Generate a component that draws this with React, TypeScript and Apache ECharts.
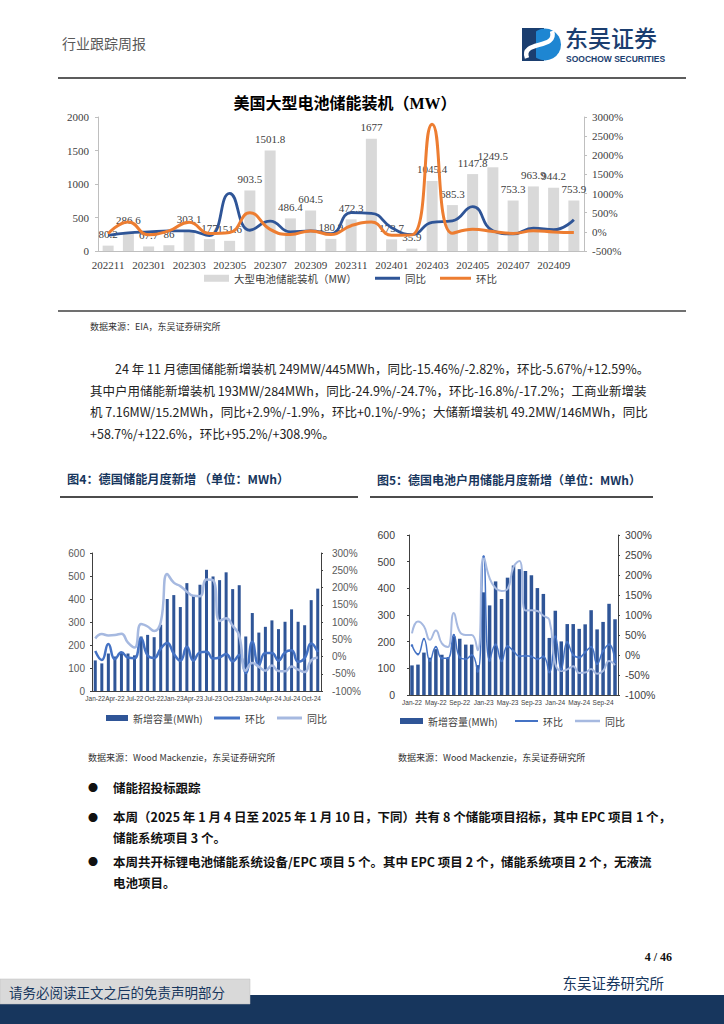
import React, { useEffect, useRef } from 'react';
import * as echarts from 'echarts';

// ---------- data: US large battery storage (MW) ----------
const usMonths = ['202211','202212','202301','202302','202303','202304','202305','202306','202307','202308','202309','202310','202311','202312','202401','202402','202403','202404','202405','202406','202407','202408','202409','202410'];
const usInstalledMW = [80.2, 286.6, 67.7, 86, 303.1, 177, 151.6, 903.5, 1501.8, 486.4, 604.5, 180.9, 472.3, 1677, 173.7, 35.9, 1045.4, 685.3, 1147.8, 1249.5, 753.3, 963.9, 944.2, 753.9];
const usYoY = [-89, -27, 0, 25, 25, -100, 1005, 42, 280, 0, 25, -45, 500, 485, 110, -70, 250, 287, 657, 30, -55, 98, 56, 317];
const usMoM = [-50, 257, -76, 27, 252, -42, -14, 496, 66, -68, 24, -70, 161, 255, -90, -79, 2812, -34, 67, 9, -40, 28, -2, -20];

// ---------- data: Germany monthly additions (MWh) ----------
const deMonths = ['Jan-22','Feb-22','Mar-22','Apr-22','May-22','Jun-22','Jul-22','Aug-22','Sep-22','Oct-22','Nov-22','Dec-22','Jan-23','Feb-23','Mar-23','Apr-23','May-23','Jun-23','Jul-23','Aug-23','Sep-23','Oct-23','Nov-23','Dec-23','Jan-24','Feb-24','Mar-24','Apr-24','May-24','Jun-24','Jul-24','Aug-24','Sep-24','Oct-24','Nov-24'];
const deTotalMWh = [133, 120, 163, 150, 168, 163, 155, 237, 244, 234, 288, 400, 417, 365, 469, 414, 462, 527, 498, 482, 516, 443, 460, 237, 339, 254, 279, 307, 269, 301, 355, 301, 286, 395, 445];
const deTotalMoM = [16, -10, 36, -8, 12, -3, -5, 53, 3, -4, 23, 39, 8, -12, 28, -12, 12, 14, -6, -3, 7, -14, 4, -48, 43, -25, 10, 10, -12, 12, 18, -15, -5, 38, 13];
const deTotalYoY = [52, 65, 61, 62, 66, 40, 26, 94, 87, 74, 99, 239, 214, 204, 188, 176, 175, 223, 221, 103, 111, 89, 60, -41, -19, -30, -41, -26, -42, -43, -29, -38, -45, -11, -3];

const deHomeMWh = [111, 114, 159, 140, 172, 151, 139, 220, 211, 189, 189, 112, 385, 336, 426, 360, 440, 486, 472, 465, 449, 401, 379, 214, 316, 201, 266, 266, 248, 265, 318, 246, 274, 342, 284];
const deHomeMoM = [24, 2, 40, -14, 20, -8, -8, 50, -6, -10, 0, -41, 246, -14, 26, -15, 22, 10, -3, -2, -4, -10, -4, -43, 46, -36, 32, 0, -6, 7, 20, -22, 10, 26, -17];
const deHomeYoY = [54, 84, 72, 38, 61, 29, 20, 105, 58, 50, 50, 12, 247, 192, 167, 160, 165, 220, 235, 111, 112, 110, 98, 88, -22, -40, -36, -28, -45, -44, -35, -47, -40, -15, -25];

// ---------- texts ----------
const legendLabels: Record<string, string> = {
  'us-bar': '大型电池储能装机（MW）', 'us-yoy': '同比', 'us-mom': '环比',
  'de-bar': '新增容量(MWh)', 'de-mom': '环比', 'de-yoy': '同比',
  'home-bar': '新增容量(MWh)', 'home-mom': '环比', 'home-yoy': '同比',
};
const paragraph = [
  '24 年 11 月德国储能新增装机 249MW/445MWh，同比-15.46%/-2.82%，环比-5.67%/+12.59%。',
  '其中户用储能新增装机 193MW/284MWh，同比-24.9%/-24.7%，环比-16.8%/-17.2%；工商业新增装',
  '机 7.16MW/15.2MWh，同比+2.9%/-1.9%，环比+0.1%/-9%；大储新增装机 49.2MW/146MWh，同比',
  '+58.7%/+122.6%，环比+95.2%/+308.9%。',
];

const SERIF = '"Liberation Serif","Times New Roman","Noto Sans CJK SC",serif';
const CJK = '"Noto Sans CJK SC",sans-serif';
const SANS = '"Liberation Sans",Arial,"Noto Sans CJK SC",sans-serif';
const NAVY = '#1B3E6F';

function txt(text: string, x: number, y: number, size: number, o: any = {}) {
  const align = o.align || 'left';
  return {
    type: 'text', x, y, silent: true,
    style: {
      text, fontSize: size, fontFamily: o.family || CJK, fontWeight: o.weight || 'normal',
      fill: o.fill || '#222', textAlign: align, align, textVerticalAlign: 'middle', verticalAlign: 'middle',
    },
  };
}
function hline(x1: number, x2: number, y: number, w: number, color: string) {
  return { type: 'line', silent: true, shape: { x1, y1: y, x2, y2: y }, style: { stroke: color, lineWidth: w } };
}
function leg(name: string, left: number, top: number, w: number, h: number, ts: any) {
  return {
    data: [{ name, icon: 'rect' }], left, top, itemWidth: w, itemHeight: h, padding: 0, itemGap: 0,
    selectedMode: false, formatter: (n: string) => legendLabels[n], textStyle: ts,
  };
}
const plain = (v: number) => String(v);
const pct = (v: number) => v + '%';

function buildOption() {
  const usAxisText = { fontFamily: SERIF, fontSize: 11, color: '#404040' };
  const smallAxisLine = { show: true, lineStyle: { color: '#404040', width: 1 } };
  const legTop = { fontFamily: CJK, fontSize: 10.5, color: '#404040' };
  const legSmall = { fontFamily: CJK, fontSize: 10, color: '#404040' };

  const graphics: any[] = [
    // header
    txt('行业跟踪周报', 62, 43, 14, { fill: '#595959' }),
    { type: 'rect', silent: true, shape: { x: 522, y: 28, width: 22, height: 33 }, style: { fill: NAVY } },
    { type: 'circle', silent: true, shape: { cx: 545, cy: 44.5, r: 16 }, style: { fill: '#1E86D2' } },
    { type: 'rect', silent: true, shape: { x: 522, y: 28, width: 14, height: 33 }, style: { fill: NAVY } },
    { type: 'bezierCurve', silent: true, shape: { x1: 527, y1: 58, cpx1: 520, cpy1: 40, cpx2: 558, cpy2: 50, x2: 552, y2: 31 }, style: { stroke: '#fff', lineWidth: 4.5, fill: 'none' } },
    txt('东吴证券', 565, 37, 23, { fill: NAVY, weight: 500 }),
    txt('SOOCHOW SECURITIES', 566, 59, 8.5, { fill: NAVY, weight: 'bold', family: SANS }),
    hline(58, 686, 78, 1.5, '#262626'),
    // top chart title
    txt('美国大型电池储能装机（MW）', 345, 103, 16, { align: 'center', weight: 'bold', fill: '#000', family: SERIF }),
    hline(58, 686, 311, 1.5, '#404040'),
    txt('数据来源：EIA，东吴证券研究所', 90, 326, 9, { fill: '#333' }),
    // paragraph
    txt(paragraph[0], 115, 368, 12.5, { fill: '#222' }),
    txt(paragraph[1], 90, 390, 12.5, { fill: '#222' }),
    txt(paragraph[2], 90, 411, 12.5, { fill: '#222' }),
    txt(paragraph[3], 90, 433, 12.5, { fill: '#222' }),
    // figure headings
    txt('图4：德国储能月度新增 （单位：MWh）', 67, 479, 12.2, { weight: 'bold', fill: '#17365D' }),
    txt('图5：德国电池户用储能月度新增（单位：MWh）', 377, 479, 12, { weight: 'bold', fill: '#17365D' }),
    hline(60, 358, 497, 1.3, '#111'),
    hline(370, 653, 497, 1.3, '#111'),
    txt('数据来源：Wood Mackenzie，东吴证券研究所', 88, 757, 9, { fill: '#333' }),
    txt('数据来源：Wood Mackenzie，东吴证券研究所', 398, 757, 9, { fill: '#333' }),
    // bullets
    txt('●', 88, 787, 10, { fill: '#111' }),
    txt('储能招投标跟踪', 113, 787, 12.5, { weight: 'bold', fill: '#111' }),
    txt('●', 88, 817, 10, { fill: '#111' }),
    txt('本周（2025 年 1 月 4 日至 2025 年 1 月 10 日，下同）共有 8 个储能项目招标，其中 EPC 项目 1 个，', 113, 816, 12.5, { weight: 'bold', fill: '#111' }),
    txt('储能系统项目 3 个。', 113, 837, 12.5, { weight: 'bold', fill: '#111' }),
    txt('●', 88, 861, 10, { fill: '#111' }),
    txt('本周共开标锂电池储能系统设备/EPC 项目 5 个。其中 EPC 项目 2 个，储能系统项目 2 个，无液流', 113, 861, 12.5, { weight: 'bold', fill: '#111' }),
    txt('电池项目。', 113, 882, 12.5, { weight: 'bold', fill: '#111' }),
    // footer
    txt('4 / 46', 672, 957, 12, { align: 'right', weight: 'bold', family: SERIF, fill: '#111' }),
    txt('东吴证券研究所', 664, 982, 14.5, { align: 'right', fill: '#17365D' }),
    { type: 'rect', silent: true, shape: { x: 0, y: 995, width: 724, height: 29 }, style: { fill: '#17365D' } },
    { type: 'rect', silent: true, shape: { x: 0, y: 979, width: 250, height: 25 }, style: { fill: '#D9D9D9', stroke: '#BFBFBF', lineWidth: 0.5 } },
    txt('请务必阅读正文之后的免责声明部分', 9, 992, 13.5, { fill: '#17365D' }),
  ];

  return {
    animation: false,
    backgroundColor: '#ffffff',
    grid: [
      { left: 98, top: 117, width: 486, height: 134 },
      { left: 92, top: 553, width: 229, height: 138 },
      { left: 409, top: 535, width: 209, height: 160 },
    ],
    xAxis: [
      { gridIndex: 0, type: 'category', data: usMonths, axisLine: { lineStyle: { color: '#BFBFBF' } }, axisTick: { show: false },
        axisLabel: { ...usAxisText, interval: 1, margin: 8 } },
      { gridIndex: 1, type: 'category', data: deMonths, axisLine: smallAxisLine, axisTick: { show: false },
        axisLabel: { fontFamily: SANS, fontSize: 6.5, color: '#404040', interval: 2, margin: 4 } },
      { gridIndex: 2, type: 'category', data: deMonths, axisLine: smallAxisLine, axisTick: { show: false },
        axisLabel: { fontFamily: SANS, fontSize: 6.5, color: '#404040', interval: 3, margin: 4 } },
    ],
    yAxis: [
      { gridIndex: 0, type: 'value', min: 0, max: 2000, interval: 500, splitLine: { show: false },
        axisLine: { show: true, lineStyle: { color: '#BFBFBF' } }, axisTick: { show: true, length: 3, lineStyle: { color: '#BFBFBF' } },
        axisLabel: { ...usAxisText, margin: 9, formatter: plain } },
      { gridIndex: 0, type: 'value', position: 'right', min: -500, max: 3000, interval: 500, splitLine: { show: false },
        axisLine: { show: true, lineStyle: { color: '#BFBFBF' } }, axisTick: { show: true, length: 3, lineStyle: { color: '#BFBFBF' } },
        axisLabel: { ...usAxisText, margin: 8, formatter: pct } },
      { gridIndex: 1, type: 'value', min: 0, max: 600, interval: 100, splitLine: { show: false },
        axisLine: smallAxisLine, axisTick: { show: true, length: 2, lineStyle: { color: '#404040' } },
        axisLabel: { fontFamily: SANS, fontSize: 10, color: '#595959', margin: 7, formatter: plain } },
      { gridIndex: 1, type: 'value', position: 'right', min: -100, max: 300, interval: 50, splitLine: { show: false },
        axisLine: smallAxisLine, axisTick: { show: true, length: 2, lineStyle: { color: '#404040' } },
        axisLabel: { fontFamily: SANS, fontSize: 10, color: '#595959', margin: 11, formatter: pct } },
      { gridIndex: 2, type: 'value', min: 0, max: 600, interval: 100, splitLine: { show: false },
        axisLine: smallAxisLine, axisTick: { show: true, length: 2, lineStyle: { color: '#404040' } },
        axisLabel: { fontFamily: SANS, fontSize: 10.5, color: '#404040', margin: 14, formatter: plain } },
      { gridIndex: 2, type: 'value', position: 'right', min: -100, max: 300, interval: 50, splitLine: { show: false },
        axisLine: smallAxisLine, axisTick: { show: true, length: 2, lineStyle: { color: '#404040' } },
        axisLabel: { fontFamily: SANS, fontSize: 10.5, color: '#404040', margin: 7, formatter: pct } },
    ],
    legend: [
      leg('us-bar', 204, 273, 25, 7, legTop),
      leg('us-yoy', 375, 273, 25, 3, legTop),
      leg('us-mom', 440, 273, 31, 3, legTop),
      leg('de-bar', 106, 713, 22, 6, legSmall),
      leg('de-mom', 214, 713, 26, 3, legSmall),
      leg('de-yoy', 277, 713, 25, 3, legSmall),
      leg('home-bar', 400, 716, 23, 6, legSmall),
      leg('home-mom', 515, 716, 23, 2, legSmall),
      leg('home-yoy', 575, 716, 25, 2.5, legSmall),
    ],
    series: [
      { name: 'us-bar', type: 'bar', xAxisIndex: 0, yAxisIndex: 0, data: usInstalledMW, barWidth: 11,
        itemStyle: { color: '#D9D9D9' },
        label: { show: true, position: 'top', distance: 6, fontFamily: SERIF, fontSize: 11, color: '#404040' } },
      { name: 'us-yoy', type: 'line', xAxisIndex: 0, yAxisIndex: 1, data: usYoY, smooth: true, symbol: 'none',
        lineStyle: { color: '#2F5597', width: 2.8 }, itemStyle: { color: '#2F5597' } },
      { name: 'us-mom', type: 'line', xAxisIndex: 0, yAxisIndex: 1, data: usMoM, smooth: true, symbol: 'none',
        lineStyle: { color: '#ED7D31', width: 3 }, itemStyle: { color: '#ED7D31' } },

      { name: 'de-bar', type: 'bar', xAxisIndex: 1, yAxisIndex: 2, data: deTotalMWh, barWidth: 3, itemStyle: { color: '#2F5597' } },
      { name: 'de-mom', type: 'line', xAxisIndex: 1, yAxisIndex: 3, data: deTotalMoM, smooth: true, symbol: 'none',
        lineStyle: { color: '#4472C4', width: 2.5 }, itemStyle: { color: '#4472C4' } },
      { name: 'de-yoy', type: 'line', xAxisIndex: 1, yAxisIndex: 3, data: deTotalYoY, smooth: true, symbol: 'none',
        lineStyle: { color: '#A6B9E0', width: 2.5 }, itemStyle: { color: '#A6B9E0' } },

      { name: 'home-bar', type: 'bar', xAxisIndex: 2, yAxisIndex: 4, data: deHomeMWh, barWidth: 3.5, itemStyle: { color: '#2F5597' } },
      { name: 'home-mom', type: 'line', xAxisIndex: 2, yAxisIndex: 5, data: deHomeMoM, smooth: true, symbol: 'circle', symbolSize: 2.5,
        lineStyle: { color: '#4472C4', width: 1.5 }, itemStyle: { color: '#4472C4' } },
      { name: 'home-yoy', type: 'line', xAxisIndex: 2, yAxisIndex: 5, data: deHomeYoY, smooth: true, symbol: 'none',
        lineStyle: { color: '#A6B9E0', width: 2 }, itemStyle: { color: '#A6B9E0' } },
    ],
    graphic: { elements: graphics },
  };
}

export default function App() {
  const ref = useRef<HTMLDivElement>(null);
  useEffect(() => {
    if (!ref.current) return;
    const chart = echarts.init(ref.current, null, { renderer: 'svg' });
    chart.setOption(buildOption() as any);
    return () => chart.dispose();
  }, []);
  return (
    <div
      ref={ref}
      style={{ position: 'absolute', left: 0, top: 0, width: 724, height: 1024, background: '#fff' }}
    />
  );
}
